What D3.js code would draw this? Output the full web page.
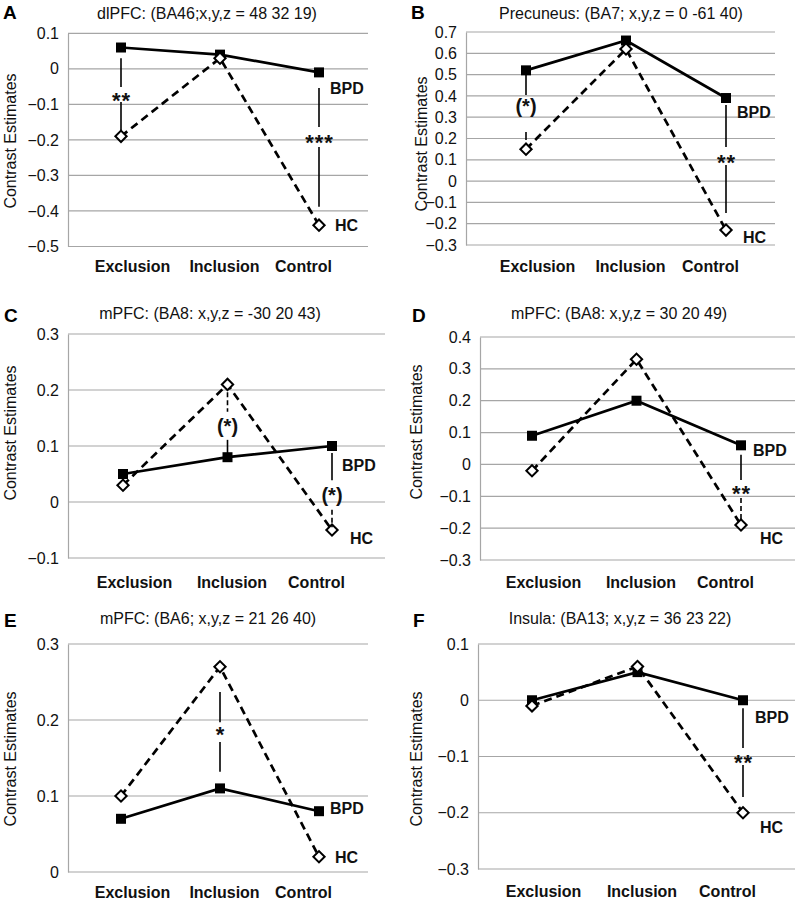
<!DOCTYPE html>
<html>
<head>
<meta charset="utf-8">
<script src="https://cdn.jsdelivr.net/npm/d3@7"></script>
<style>
  html, body { margin: 0; padding: 0; background: #fff; }
  svg { display: block; font-family: "Liberation Sans", Arial, Helvetica, sans-serif; }
</style>
</head>
<body>
<svg id="chart" width="796" height="902"></svg>
<script>
// ---------------- data ----------------
const categories = ["Exclusion", "Inclusion", "Control"];
const panelLetters = ["A", "B", "C", "D", "E", "F"];
const panelTitles = [
  "dlPFC: (BA46;x,y,z = 48 32 19)",
  "Precuneus: (BA7; x,y,z = 0 -61 40)",
  "mPFC: (BA8: x,y,z = -30 20 43)",
  "mPFC: (BA8: x,y,z = 30 20 49)",
  "mPFC: (BA6; x,y,z = 21 26 40)",
  "Insula: (BA13; x,y,z = 36 23 22)"
];
const bpdValues = [
  [0.06, 0.04, -0.01],
  [0.52, 0.66, 0.39],
  [0.05, 0.08, 0.10],
  [0.09, 0.20, 0.06],
  [0.07, 0.11, 0.08],
  [0.00, 0.05, 0.00]
];
const hcValues = [
  [-0.19, 0.03, -0.44],
  [0.15, 0.62, -0.23],
  [0.03, 0.21, -0.05],
  [-0.02, 0.33, -0.19],
  [0.10, 0.27, 0.02],
  [-0.01, 0.06, -0.20]
];
const yDomains = [[-0.5, 0.1], [-0.3, 0.7], [-0.1, 0.3], [-0.3, 0.4], [0, 0.3], [-0.3, 0.1]];
const yTickValues = [
  [0.1, 0, -0.1, -0.2, -0.3, -0.4, -0.5],
  [0.7, 0.6, 0.5, 0.4, 0.3, 0.2, 0.1, 0, -0.1, -0.2, -0.3],
  [0.3, 0.2, 0.1, 0, -0.1],
  [0.4, 0.3, 0.2, 0.1, 0, -0.1, -0.2, -0.3],
  [0.3, 0.2, 0.1, 0],
  [0.1, 0, -0.1, -0.2, -0.3]
];
const seriesNames = ["BPD", "HC"];
// significance annotations (values on each panel's y scale)
const sigMarks = [
  { panel: 0, cat: 0, text: "**",  at: -0.074, upper: [0.030, -0.051], lower: [-0.093, -0.178], lowerDashed: false },
  { panel: 0, cat: 2, text: "***", at: -0.194, upper: [-0.054, -0.164], lower: [-0.220, -0.388], lowerDashed: false },
  { panel: 1, cat: 0, text: "(*)", at: 0.348,  upper: [0.498, 0.404],   lower: [0.231, 0.193],   lowerDashed: false },
  { panel: 1, cat: 2, text: "**",  at: 0.113,  upper: [0.357, 0.160],   lower: [0.076, -0.150],  lowerDashed: false },
  { panel: 2, cat: 1, text: "(*)", at: 0.134,  upper: [0.196, 0.161],   lower: [0.111, 0.080],   upperDashed: true },
  { panel: 2, cat: 2, text: "(*)", at: 0.0125, upper: [0.0875, 0.039],  lower: [-0.014, -0.045], lowerDashed: true },
  { panel: 3, cat: 2, text: "**",  at: -0.074, upper: [0.030, -0.049],  lower: [-0.105, -0.174], lowerDashed: true },
  { panel: 4, cat: 1, text: "*",   at: 0.187,  upper: [0.237, 0.197],   lower: [0.171, 0.132],   lowerDashed: false },
  { panel: 5, cat: 2, text: "**",  at: -0.101, upper: [-0.014, -0.085], lower: [-0.115, -0.172], lowerDashed: false }
];

// ---------------- layout ----------------
const layout = [
  { left: 68,  right: 368, top: 33.3, bottom: 246.5, x0: 121, x2: 319, titleX: 207, titleY: 19,  letterX: 3,   letterY: 19,  yLabX: 10,  yLabY: 141, catY: 273,
    bpdOff: [11, 16], hcOff: [16, 0] },
  { left: 466, right: 775, top: 32,   bottom: 245,   x0: 526, x2: 726, titleX: 621, titleY: 19,  letterX: 411, letterY: 19,  yLabX: 421, yLabY: 144, catY: 273,
    bpdOff: [11, 14], hcOff: [17, 7] },
  { left: 68,  right: 385, top: 334,  bottom: 558,   x0: 123, x2: 332, titleX: 210, titleY: 319, letterX: 4,   letterY: 322, yLabX: 10,  yLabY: 433, catY: 589,
    bpdOff: [10, 19], hcOff: [18, 8] },
  { left: 480, right: 795, top: 337,  bottom: 560,   x0: 532, x2: 741, titleX: 619, titleY: 319, letterX: 412, letterY: 322, yLabX: 416, yLabY: 432, catY: 589,
    bpdOff: [12, 5], hcOff: [19, 13] },
  { left: 68,  right: 368, top: 644,  bottom: 872,   x0: 121, x2: 319, titleX: 208, titleY: 624, letterX: 4,   letterY: 627, yLabX: 10,  yLabY: 759, catY: 899,
    bpdOff: [11, -3], hcOff: [16, 0] },
  { left: 478, right: 795, top: 644,  bottom: 869,   x0: 532, x2: 743, titleX: 620, titleY: 624, letterX: 413, letterY: 627, yLabX: 416, yLabY: 759, catY: 898,
    bpdOff: [12, 17], hcOff: [17, 14] }
];
const catLabelShift = [11, 4, -16];

const svg = d3.select("#chart");
const gridColor = "#a6a6a6";
const fmt = v => (Math.abs(v) < 1e-9 ? "0" : d3.format(".1f")(v));

layout.forEach((L, p) => {
  const g = svg.append("g");
  const x = d3.scalePoint().domain(categories).range([L.x0, L.x2]);
  const y = d3.scaleLinear().domain(yDomains[p]).range([L.bottom, L.top]);

  // gridlines
  g.append("g").selectAll("line").data(yTickValues[p]).join("line")
    .attr("x1", L.left).attr("x2", L.right)
    .attr("y1", d => y(d)).attr("y2", d => y(d))
    .attr("stroke", gridColor).attr("stroke-width", 1.2);

  // y axis
  const yAxis = d3.axisLeft(y).tickValues(yTickValues[p]).tickSize(0).tickPadding(9).tickFormat(fmt);
  const ag = g.append("g").attr("transform", `translate(${L.left},0)`).call(yAxis);
  ag.select(".domain").attr("stroke", gridColor).attr("stroke-width", 1.2);
  ag.selectAll("text").attr("font-size", 16).attr("fill", "#111");

  // x axis labels
  const xAxis = d3.axisBottom(x).tickSize(0).tickPadding(0);
  const xg = g.append("g").attr("transform", `translate(0,${L.catY - 12})`).call(xAxis);
  xg.select(".domain").remove();
  xg.selectAll(".tick text")
    .attr("font-size", 16).attr("font-weight", "bold").attr("fill", "#111")
    .attr("dy", "0.71em")
    .attr("dx", (d, i) => catLabelShift[i]);

  // title, letter, y label
  g.append("text").attr("x", L.titleX).attr("y", L.titleY).attr("text-anchor", "middle")
    .attr("font-size", 16).attr("fill", "#111").text(panelTitles[p]);
  g.append("text").attr("x", L.letterX).attr("y", L.letterY)
    .attr("font-size", 19).attr("font-weight", "bold").attr("fill", "#000").text(panelLetters[p]);
  g.append("text").attr("transform", `translate(${L.yLabX + 6},${L.yLabY}) rotate(-90)`)
    .attr("text-anchor", "middle").attr("font-size", 16).attr("fill", "#111").text("Contrast Estimates");

  const line = d3.line().x((d, i) => x(categories[i])).y(d => y(d));

  // HC dashed
  g.append("path").datum(hcValues[p]).attr("d", line)
    .attr("fill", "none").attr("stroke", "#000").attr("stroke-width", 2.7).attr("stroke-dasharray", "8,5");
  // BPD solid
  g.append("path").datum(bpdValues[p]).attr("d", line)
    .attr("fill", "none").attr("stroke", "#000").attr("stroke-width", 2.7);

  // BPD squares
  g.append("g").selectAll("path").data(bpdValues[p]).join("path")
    .attr("d", d3.symbol().type(d3.symbolSquare).size(100))
    .attr("transform", (d, i) => `translate(${x(categories[i])},${y(d)})`)
    .attr("fill", "#000");
  // HC diamonds
  g.append("g").selectAll("path").data(hcValues[p]).join("path")
    .attr("d", d3.symbol().type(d3.symbolSquare).size(64))
    .attr("transform", (d, i) => `translate(${x(categories[i])},${y(d)}) rotate(45)`)
    .attr("fill", "#fff").attr("stroke", "#000").attr("stroke-width", 2);

  // series labels
  const cx = x(categories[2]);
  g.append("text").attr("x", cx + L.bpdOff[0]).attr("y", y(bpdValues[p][2]) + L.bpdOff[1] + 6)
    .attr("font-size", 16).attr("font-weight", "bold").attr("fill", "#111").text(seriesNames[0]);
  g.append("text").attr("x", cx + L.hcOff[0]).attr("y", y(hcValues[p][2]) + L.hcOff[1] + 6)
    .attr("font-size", 16).attr("font-weight", "bold").attr("fill", "#111").text(seriesNames[1]);

  // significance marks
  sigMarks.filter(s => s.panel === p).forEach(s => {
    const sx = x(categories[s.cat]);
    [[s.upper, s.upperDashed], [s.lower, s.lowerDashed]].forEach(([seg, dashed]) => {
      g.append("line").attr("x1", sx).attr("x2", sx)
        .attr("y1", y(seg[0])).attr("y2", y(seg[1]))
        .attr("stroke", "#000").attr("stroke-width", 1.6)
        .attr("stroke-dasharray", dashed ? "5,3" : null);
    });
    const paren = s.text.includes("(");
    const t = g.append("text").attr("x", sx).attr("text-anchor", "middle")
      .attr("font-weight", "bold").attr("fill", "#111").text(s.text);
    if (paren) {
      t.attr("y", y(s.at) + 6.5).attr("font-size", 20);
    } else {
      t.attr("y", y(s.at) + 12.5).attr("font-size", 22)
        .attr("letter-spacing", s.text.length > 1 ? 1 : 0)
        .attr("dx", s.text.length > 1 ? 0.5 : 0);
    }
  });
});
</script>
</body>
</html>
